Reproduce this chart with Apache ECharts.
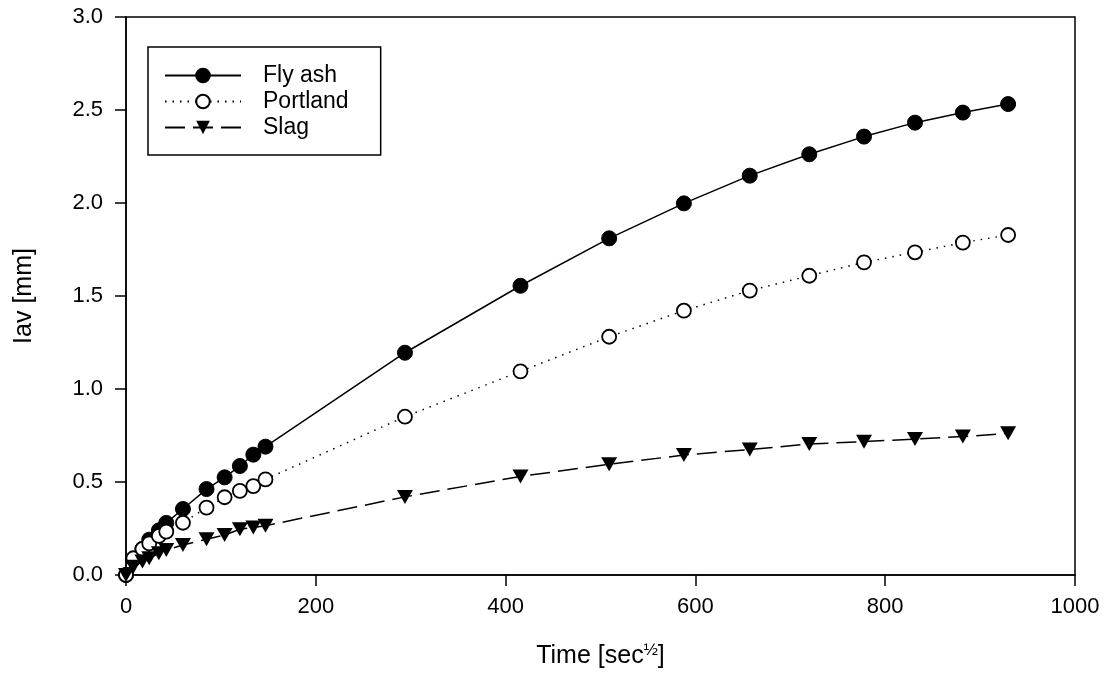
<!DOCTYPE html>
<html>
<head>
<meta charset="utf-8">
<script src="https://cdn.jsdelivr.net/npm/echarts@6/dist/echarts.min.js"></script>
<style>
html,body{margin:0;padding:0;background:#fff;}
#chart{width:1112px;height:674px;}
</style>
</head>
<body>
<div id="chart"></div>
<script>
// time in sec^0.5
const timeSqrt = [0, 7.75, 17.32, 24.49, 34.64, 42.43, 60, 84.85, 103.92, 120, 134.16, 146.97,
  293.94, 415.69, 509.12, 587.88, 657.27, 720, 777.69, 831.38, 881.82, 929.52];
const flyAsh = [0, 0.085, 0.14, 0.19, 0.24, 0.28, 0.355, 0.462, 0.525, 0.586, 0.647, 0.69,
  1.195, 1.555, 1.81, 1.998, 2.147, 2.262, 2.357, 2.432, 2.486, 2.532];
const portland = [0, 0.09, 0.14, 0.17, 0.21, 0.233, 0.281, 0.362, 0.418, 0.452, 0.478, 0.514,
  0.851, 1.095, 1.281, 1.421, 1.529, 1.609, 1.681, 1.735, 1.787, 1.828];
const slag = [0, 0.045, 0.072, 0.09, 0.117, 0.134, 0.161, 0.192, 0.215, 0.246, 0.256, 0.265,
  0.42, 0.53, 0.595, 0.645, 0.675, 0.704, 0.717, 0.731, 0.744, 0.762];
const seriesNames = ['Fly ash', 'Portland', 'Slag'];
const xTicks = [0, 200, 400, 600, 800, 1000];
const yTicks = [0, 0.5, 1.0, 1.5, 2.0, 2.5, 3.0];

const pair = (xs, ys) => xs.map((x, i) => [x, ys[i]]);
const FONT = 'Liberation Sans';

const chart = echarts.init(document.getElementById('chart'));
chart.setOption({
  animation: false,
  backgroundColor: '#fff',
  textStyle: { fontFamily: FONT, color: '#000' },
  grid: { left: 126, right: 37, top: 17, bottom: 99, show: true, borderColor: '#000', borderWidth: 1.5, backgroundColor: 'transparent' },
  legend: {
    orient: 'vertical', left: 148, top: 47,
    data: seriesNames,
    borderColor: '#000', borderWidth: 1.5,
    padding: [17, 32, 16, 16],
    itemWidth: 76, itemHeight: 17, itemGap: 3,
    textStyle: { fontFamily: FONT, fontSize: 23, color: '#000', padding: [0, 0, 0, 17] }
  },
  xAxis: {
    type: 'value', min: xTicks[0], max: xTicks[xTicks.length - 1], interval: 200,
    name: '{a|Time [sec}{b|½}{a|]}', nameLocation: 'middle', nameGap: 67,
    nameTextStyle: { rich: {
      a: { fontFamily: FONT, fontSize: 25, color: '#000' },
      b: { fontFamily: FONT, fontSize: 17, color: '#000', verticalAlign: 'top', padding: [0, 0, 12, 0] }
    } },
    axisLine: { lineStyle: { color: '#000', width: 1.5 } },
    axisTick: { inside: false, length: 11, lineStyle: { color: '#000', width: 1.5 } },
    axisLabel: { fontFamily: FONT, fontSize: 22, color: '#000', margin: 21, formatter: v => String(v) },
    splitLine: { show: false }
  },
  yAxis: {
    type: 'value', min: yTicks[0], max: yTicks[yTicks.length - 1], interval: 0.5,
    name: 'Iav [mm]', nameLocation: 'middle', nameGap: 89,
    nameTextStyle: { fontFamily: FONT, fontSize: 25, color: '#000' },
    axisLine: { lineStyle: { color: '#000', width: 1.5 } },
    axisTick: { inside: false, length: 11, lineStyle: { color: '#000', width: 1.5 } },
    axisLabel: { fontFamily: FONT, fontSize: 22, color: '#000', margin: 23, formatter: v => v.toFixed(1) },
    splitLine: { show: false }
  },
  series: [
    {
      name: seriesNames[0], type: 'line', data: pair(timeSqrt, flyAsh),
      symbol: 'circle', symbolSize: 15,
      lineStyle: { color: '#000', width: 1.5, type: 'solid' },
      itemStyle: { color: '#000', borderColor: '#000', borderWidth: 1 }, z: 3
    },
    {
      name: seriesNames[1], type: 'line', data: pair(timeSqrt, portland),
      symbol: 'circle', symbolSize: 14,
      lineStyle: { color: '#000', width: 1.5, type: [1.5, 6] },
      itemStyle: { color: '#fff', borderColor: '#000', borderWidth: 1.8 }, z: 4
    },
    {
      name: seriesNames[2], type: 'line', data: pair(timeSqrt, slag),
      symbol: 'triangle', symbolRotate: 180, symbolSize: [16, 14],
      lineStyle: { color: '#000', width: 1.5, type: [20, 8] },
      itemStyle: { color: '#000', borderColor: '#000', borderWidth: 0 }, z: 5
    }
  ]
});
</script>
</body>
</html>
